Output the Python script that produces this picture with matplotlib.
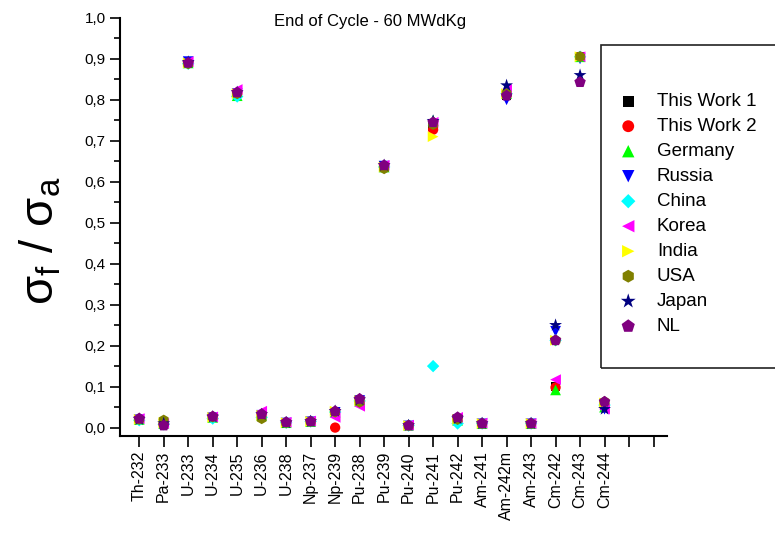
import matplotlib
matplotlib.use("Agg")
import matplotlib.pyplot as plt
from matplotlib.patches import Rectangle
from matplotlib.ticker import FuncFormatter, MultipleLocator

plt.rcParams['font.family'] = ['Liberation Sans', 'DejaVu Sans']
plt.rcParams['mathtext.fontset'] = 'custom'
plt.rcParams['mathtext.rm'] = 'Liberation Sans'
plt.rcParams['mathtext.it'] = 'Liberation Sans'

isotopes = ['Th-232', 'Pa-233', 'U-233', 'U-234', 'U-235', 'U-236', 'U-238',
            'Np-237', 'Np-239', 'Pu-238', 'Pu-239', 'Pu-240', 'Pu-241', 'Pu-242',
            'Am-241', 'Am-242m', 'Am-243', 'Cm-242', 'Cm-243', 'Cm-244']

this_work_1 = [0.020, 0.010, 0.890, 0.025, 0.815, 0.030, 0.012, 0.015, 0.040, 0.065,
               0.638, 0.005, 0.735, 0.020, 0.010, 0.810, 0.010, 0.100, 0.905, 0.055]
this_work_2 = [0.020, 0.010, 0.890, 0.025, 0.815, 0.030, 0.012, 0.015, 0.000, 0.065,
               0.638, 0.005, 0.727, 0.020, 0.010, 0.810, 0.010, 0.098, 0.905, 0.055]
germany = [0.020, 0.010, 0.890, 0.025, 0.810, 0.030, 0.012, 0.015, 0.038, 0.065,
           0.636, 0.006, 0.750, 0.018, 0.010, 0.815, 0.010, 0.092, 0.905, 0.050]
russia = [0.019, 0.008, 0.893, 0.024, 0.815, 0.030, 0.011, 0.014, 0.037, 0.066,
          0.638, 0.004, 0.740, 0.020, 0.009, 0.800, 0.009, 0.235, 0.900, 0.045]
china = [0.018, 0.008, 0.888, 0.022, 0.808, 0.025, 0.012, 0.015, 0.038, 0.065,
         0.636, 0.005, 0.150, 0.010, 0.010, 0.815, 0.010, 0.213, 0.905, 0.055]
korea = [0.022, 0.010, 0.893, 0.026, 0.825, 0.040, 0.013, 0.016, 0.025, 0.052,
         0.640, 0.006, 0.745, 0.025, 0.011, 0.825, 0.010, 0.117, 0.905, 0.045]
india = [0.020, 0.012, 0.890, 0.025, 0.815, 0.030, 0.012, 0.015, 0.040, 0.066,
         0.636, 0.005, 0.710, 0.020, 0.010, 0.815, 0.010, 0.213, 0.905, 0.060]
usa = [0.020, 0.018, 0.888, 0.026, 0.815, 0.022, 0.012, 0.015, 0.038, 0.062,
       0.632, 0.005, 0.740, 0.020, 0.010, 0.815, 0.010, 0.213, 0.905, 0.063]
japan = [0.020, 0.010, 0.892, 0.026, 0.818, 0.032, 0.012, 0.015, 0.040, 0.068,
         0.640, 0.005, 0.748, 0.022, 0.010, 0.835, 0.010, 0.250, 0.860, 0.045]
nl = [0.022, 0.005, 0.890, 0.027, 0.818, 0.033, 0.013, 0.015, 0.040, 0.070,
      0.640, 0.005, 0.745, 0.025, 0.010, 0.810, 0.010, 0.213, 0.843, 0.063]

series = [
    ('This Work 1', this_work_1, 's', 'black'),
    ('This Work 2', this_work_2, 'o', 'red'),
    ('Germany', germany, '^', '#00ff00'),
    ('Russia', russia, 'v', 'blue'),
    ('China', china, 'D', 'cyan'),
    ('Korea', korea, '<', 'magenta'),
    ('India', india, '>', 'yellow'),
    ('USA', usa, 'h', '#808000'),
    ('Japan', japan, '*', 'navy'),
    ('NL', nl, 'p', 'purple'),
]

sizes = {'s': 45, 'o': 55, '^': 60, 'v': 60, 'D': 40, '<': 60, '>': 60,
         'h': 65, '*': 95, 'p': 75}

fig = plt.figure(figsize=(7.75, 5.4), dpi=100)
ax = fig.add_axes([0.155, 0.193, 0.705, 0.774])

x = list(range(1, len(isotopes) + 1))
handles = []
for name, vals, mk, col in series:
    h = ax.scatter(x, vals, marker=mk, s=sizes[mk], color=col,
                   edgecolors='none', label=name, zorder=3)
    handles.append(h)

ax.set_xlim(0.22, 22.53)
ax.set_ylim(-0.02, 1.0)
ax.set_xticks(range(1, 23))
ax.set_xticklabels(isotopes + ['', ''], rotation=90, fontsize=11.5)
ax.yaxis.set_major_locator(MultipleLocator(0.1))
ax.yaxis.set_minor_locator(MultipleLocator(0.05))
ax.yaxis.set_major_formatter(FuncFormatter(lambda v, p: f"{v:.1f}".replace('.', ',')))
ax.tick_params(axis='y', labelsize=11, length=7, width=1.2, direction='out')
ax.tick_params(axis='y', which='minor', length=4, width=1.2)
ax.tick_params(axis='x', length=8, width=1.2, direction='out', pad=3)

ax.spines['top'].set_visible(False)
ax.spines['right'].set_visible(False)
ax.spines['left'].set_linewidth(1.5)
ax.spines['bottom'].set_linewidth(1.5)

fig.text(0.477, 0.96, 'End of Cycle - 60 MWdKg', ha='center', va='center', fontsize=12)
fig.text(0.052, 0.555, r'$\sigma_{\mathrm{f}}\ /\ \sigma_{\mathrm{a}}$', rotation=90,
         ha='center', va='center', fontsize=34)

fig.patches.append(Rectangle((601 / 775, 1 - 368 / 540), 200 / 775, 323 / 540,
                             transform=fig.transFigure, fill=False,
                             edgecolor='#222222', linewidth=1.2))
fig.legend(handles=handles, loc='upper left', bbox_to_anchor=(617 / 775, 1 - 93 / 540),
           frameon=False, fontsize=13.5, labelspacing=0.42, handletextpad=0.93,
           handlelength=1.2, borderaxespad=0, borderpad=0, markerscale=1.15)

fig.savefig('out.png', dpi=100)
